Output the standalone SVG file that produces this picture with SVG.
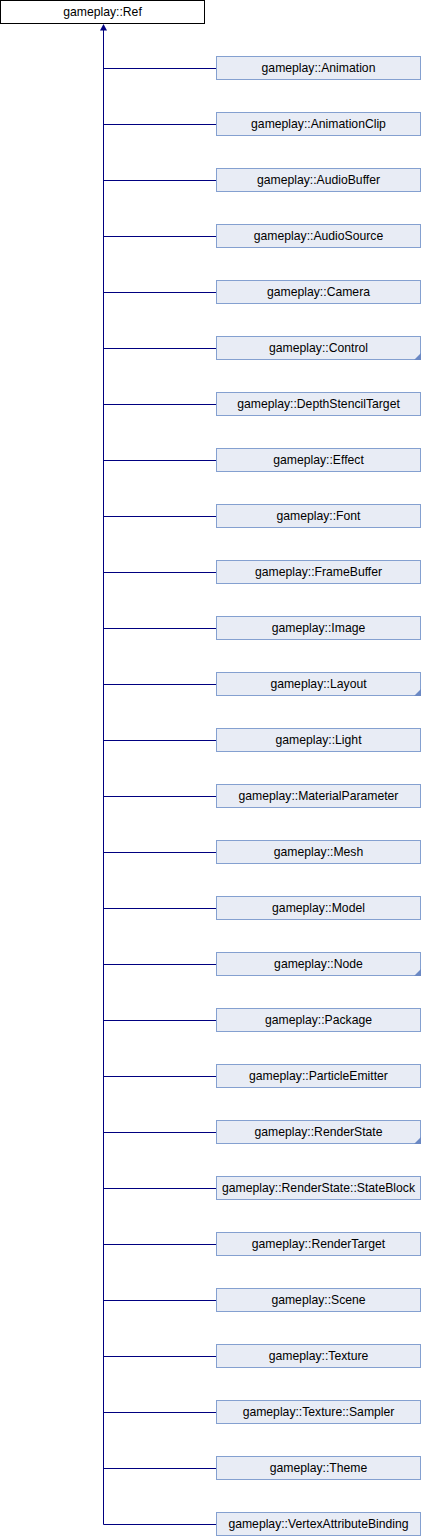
<svg xmlns="http://www.w3.org/2000/svg" width="422" height="1536" viewBox="0 0 422 1536">
<style>
.n rect{fill:#e8ecf5;stroke:#84a0d0;stroke-width:1}
.r rect{fill:#ffffff;stroke:#000000;stroke-width:1}
text{font-family:"Liberation Sans",Arial,sans-serif;font-size:12.2px;fill:#000000;text-anchor:middle}
.e line{stroke:#000080;stroke-width:1}
.t{fill:#6a88c4}
</style>
<g id="connectors" class="e">
<line x1="103.5" y1="29" x2="103.5" y2="1524.5"/>
<polygon points="103.5,24 100,30.5 107,30.5" fill="#000080"/>
<line x1="103.5" y1="68.5" x2="216.5" y2="68.5"/>
<line x1="103.5" y1="124.5" x2="216.5" y2="124.5"/>
<line x1="103.5" y1="180.5" x2="216.5" y2="180.5"/>
<line x1="103.5" y1="236.5" x2="216.5" y2="236.5"/>
<line x1="103.5" y1="292.5" x2="216.5" y2="292.5"/>
<line x1="103.5" y1="348.5" x2="216.5" y2="348.5"/>
<line x1="103.5" y1="404.5" x2="216.5" y2="404.5"/>
<line x1="103.5" y1="460.5" x2="216.5" y2="460.5"/>
<line x1="103.5" y1="516.5" x2="216.5" y2="516.5"/>
<line x1="103.5" y1="572.5" x2="216.5" y2="572.5"/>
<line x1="103.5" y1="628.5" x2="216.5" y2="628.5"/>
<line x1="103.5" y1="684.5" x2="216.5" y2="684.5"/>
<line x1="103.5" y1="740.5" x2="216.5" y2="740.5"/>
<line x1="103.5" y1="796.5" x2="216.5" y2="796.5"/>
<line x1="103.5" y1="852.5" x2="216.5" y2="852.5"/>
<line x1="103.5" y1="908.5" x2="216.5" y2="908.5"/>
<line x1="103.5" y1="964.5" x2="216.5" y2="964.5"/>
<line x1="103.5" y1="1020.5" x2="216.5" y2="1020.5"/>
<line x1="103.5" y1="1076.5" x2="216.5" y2="1076.5"/>
<line x1="103.5" y1="1132.5" x2="216.5" y2="1132.5"/>
<line x1="103.5" y1="1188.5" x2="216.5" y2="1188.5"/>
<line x1="103.5" y1="1244.5" x2="216.5" y2="1244.5"/>
<line x1="103.5" y1="1300.5" x2="216.5" y2="1300.5"/>
<line x1="103.5" y1="1356.5" x2="216.5" y2="1356.5"/>
<line x1="103.5" y1="1412.5" x2="216.5" y2="1412.5"/>
<line x1="103.5" y1="1468.5" x2="216.5" y2="1468.5"/>
<line x1="103.5" y1="1524.5" x2="216.5" y2="1524.5"/>
</g>
<g id="ref" class="r"><rect x="0.5" y="0.5" width="204" height="23"/><text x="102.5" y="16">gameplay::Ref</text></g>
<g id="animation" class="n" transform="translate(0,0)"><rect x="216.5" y="56.5" width="204" height="23"/><text x="318.5" y="71.5">gameplay::Animation</text></g>
<g id="animationclip" class="n" transform="translate(0,56)"><rect x="216.5" y="56.5" width="204" height="23"/><text x="318.5" y="71.5">gameplay::AnimationClip</text></g>
<g id="audiobuffer" class="n" transform="translate(0,112)"><rect x="216.5" y="56.5" width="204" height="23"/><text x="318.5" y="71.5">gameplay::AudioBuffer</text></g>
<g id="audiosource" class="n" transform="translate(0,168)"><rect x="216.5" y="56.5" width="204" height="23"/><text x="318.5" y="71.5">gameplay::AudioSource</text></g>
<g id="camera" class="n" transform="translate(0,224)"><rect x="216.5" y="56.5" width="204" height="23"/><text x="318.5" y="71.5">gameplay::Camera</text></g>
<g id="control" class="n" transform="translate(0,280)"><rect x="216.5" y="56.5" width="204" height="23"/><polygon class="t" points="421,73 421,80 414,80"/><text x="318.5" y="71.5">gameplay::Control</text></g>
<g id="depthstenciltarget" class="n" transform="translate(0,336)"><rect x="216.5" y="56.5" width="204" height="23"/><text x="318.5" y="71.5">gameplay::DepthStencilTarget</text></g>
<g id="effect" class="n" transform="translate(0,392)"><rect x="216.5" y="56.5" width="204" height="23"/><text x="318.5" y="71.5">gameplay::Effect</text></g>
<g id="font" class="n" transform="translate(0,448)"><rect x="216.5" y="56.5" width="204" height="23"/><text x="318.5" y="71.5">gameplay::Font</text></g>
<g id="framebuffer" class="n" transform="translate(0,504)"><rect x="216.5" y="56.5" width="204" height="23"/><text x="318.5" y="71.5">gameplay::FrameBuffer</text></g>
<g id="image" class="n" transform="translate(0,560)"><rect x="216.5" y="56.5" width="204" height="23"/><text x="318.5" y="71.5">gameplay::Image</text></g>
<g id="layout" class="n" transform="translate(0,616)"><rect x="216.5" y="56.5" width="204" height="23"/><polygon class="t" points="421,73 421,80 414,80"/><text x="318.5" y="71.5">gameplay::Layout</text></g>
<g id="light" class="n" transform="translate(0,672)"><rect x="216.5" y="56.5" width="204" height="23"/><text x="318.5" y="71.5">gameplay::Light</text></g>
<g id="materialparameter" class="n" transform="translate(0,728)"><rect x="216.5" y="56.5" width="204" height="23"/><text x="318.5" y="71.5">gameplay::MaterialParameter</text></g>
<g id="mesh" class="n" transform="translate(0,784)"><rect x="216.5" y="56.5" width="204" height="23"/><text x="318.5" y="71.5">gameplay::Mesh</text></g>
<g id="model" class="n" transform="translate(0,840)"><rect x="216.5" y="56.5" width="204" height="23"/><text x="318.5" y="71.5">gameplay::Model</text></g>
<g id="node" class="n" transform="translate(0,896)"><rect x="216.5" y="56.5" width="204" height="23"/><polygon class="t" points="421,73 421,80 414,80"/><text x="318.5" y="71.5">gameplay::Node</text></g>
<g id="package" class="n" transform="translate(0,952)"><rect x="216.5" y="56.5" width="204" height="23"/><text x="318.5" y="71.5">gameplay::Package</text></g>
<g id="particleemitter" class="n" transform="translate(0,1008)"><rect x="216.5" y="56.5" width="204" height="23"/><text x="318.5" y="71.5">gameplay::ParticleEmitter</text></g>
<g id="renderstate" class="n" transform="translate(0,1064)"><rect x="216.5" y="56.5" width="204" height="23"/><polygon class="t" points="421,73 421,80 414,80"/><text x="318.5" y="71.5">gameplay::RenderState</text></g>
<g id="stateblock" class="n" transform="translate(0,1120)"><rect x="216.5" y="56.5" width="204" height="23"/><text x="318.5" y="71.5">gameplay::RenderState::StateBlock</text></g>
<g id="rendertarget" class="n" transform="translate(0,1176)"><rect x="216.5" y="56.5" width="204" height="23"/><text x="318.5" y="71.5">gameplay::RenderTarget</text></g>
<g id="scene" class="n" transform="translate(0,1232)"><rect x="216.5" y="56.5" width="204" height="23"/><text x="318.5" y="71.5">gameplay::Scene</text></g>
<g id="texture" class="n" transform="translate(0,1288)"><rect x="216.5" y="56.5" width="204" height="23"/><text x="318.5" y="71.5">gameplay::Texture</text></g>
<g id="sampler" class="n" transform="translate(0,1344)"><rect x="216.5" y="56.5" width="204" height="23"/><text x="318.5" y="71.5">gameplay::Texture::Sampler</text></g>
<g id="theme" class="n" transform="translate(0,1400)"><rect x="216.5" y="56.5" width="204" height="23"/><text x="318.5" y="71.5">gameplay::Theme</text></g>
<g id="vertexattributebinding" class="n" transform="translate(0,1456)"><rect x="216.5" y="56.5" width="204" height="23"/><text x="318.5" y="71.5">gameplay::VertexAttributeBinding</text></g>
</svg>
